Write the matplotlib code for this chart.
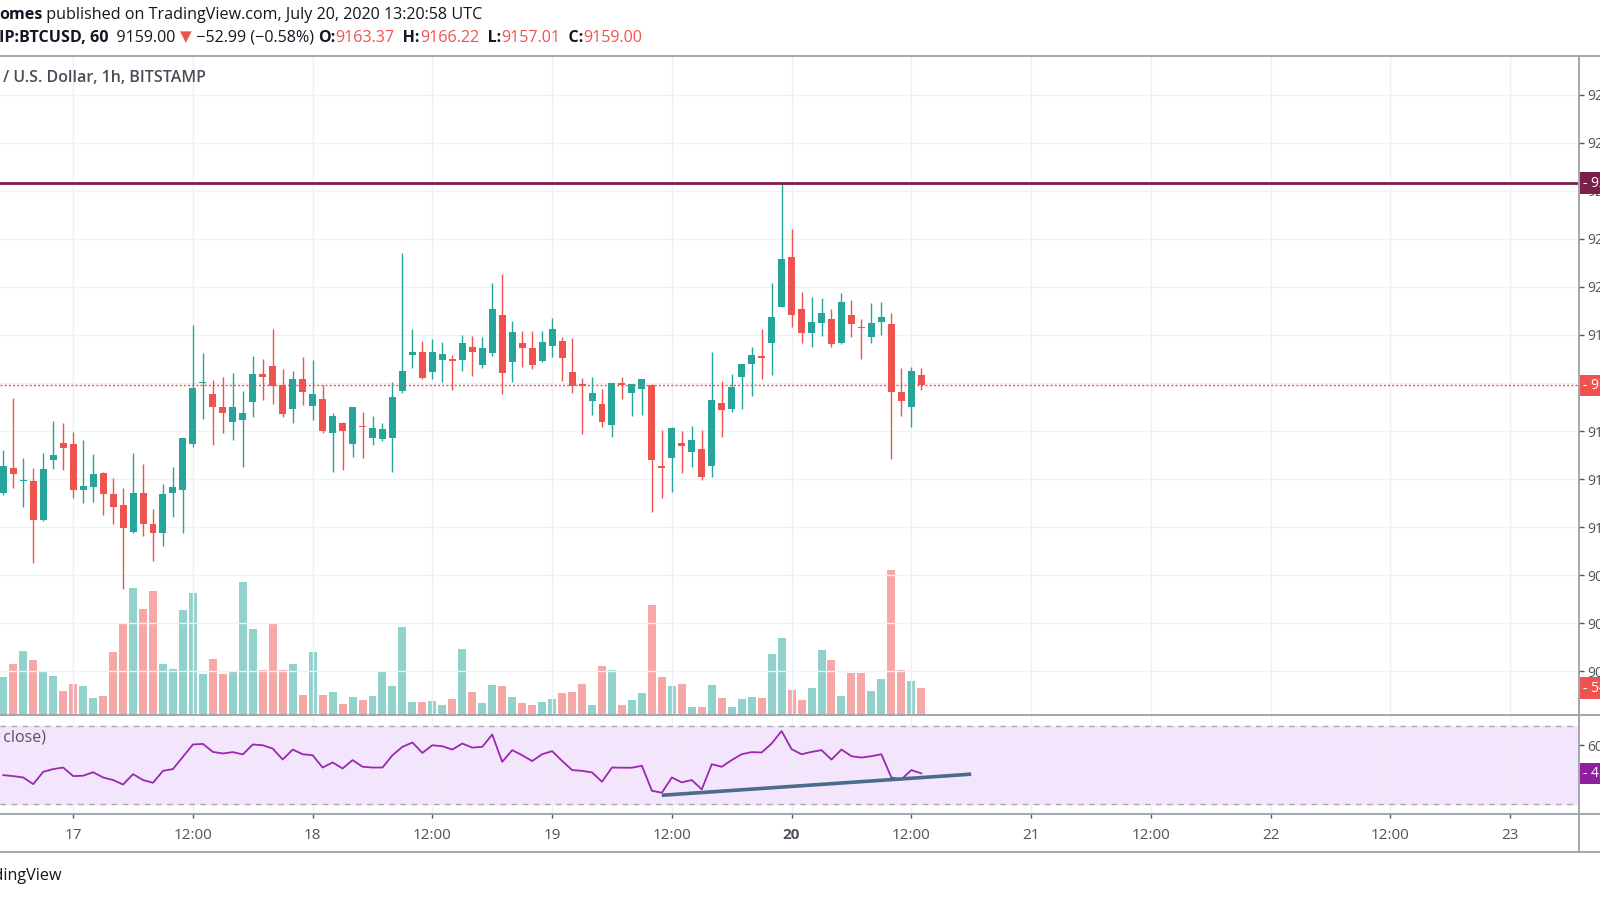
import matplotlib
matplotlib.use('Agg')
import matplotlib.pyplot as plt
import matplotlib.dates as mdates
from matplotlib.lines import Line2D
import numpy as np
import pandas as pd

plt.rcParams['font.family'] = ['Open Sans', 'DejaVu Sans']

# BTCUSD Bitstamp, 1h candles, 16 Jul 17:00 -> 20 Jul 13:00 UTC
times = pd.date_range('2020-07-16 17:00', periods=93, freq='h')

opens = [9114.0, 9124.4, 9119.0, 9119.3, 9102.9, 9127.9, 9134.9, 9134.4, 9115.4, 9116.8,
         9122.4, 9113.8, 9109.2, 9097.8, 9114.3, 9101.3, 9097.4, 9114.0, 9115.4, 9134.4,
         9159.9, 9155.3, 9149.9, 9143.6, 9144.6, 9152.2, 9163.8, 9167.1, 9159.2, 9149.2,
         9161.5, 9150.4, 9153.2, 9139.3, 9143.2, 9134.4, 9142.2, 9136.9, 9136.5, 9136.9,
         9156.8, 9171.7, 9172.8, 9164.7, 9169.6, 9169.9, 9169.6, 9174.9, 9167.5, 9172.6,
         9188.3, 9168.6, 9176.8, 9174.7, 9169.2, 9175.6, 9177.5, 9164.7, 9159.4, 9152.6,
         9151.1, 9142.5, 9159.9, 9155.7, 9157.5, 9159.2, 9125.6, 9128.9, 9134.9, 9131.4,
         9132.4, 9125.4, 9151.5, 9149.0, 9162.6, 9167.9, 9171.0, 9176.5, 9191.8, 9212.6,
         9190.8, 9181.0, 9185.1, 9186.5, 9176.5, 9188.3, 9183.5, 9179.0, 9185.3, 9184.6,
         9156.1, 9149.9, 9163.37]
highs = [9132.1, 9153.9, 9128.6, 9124.7, 9131.0, 9144.3, 9143.2, 9139.4, 9136.1, 9130.4,
         9123.1, 9120.6, 9116.1, 9130.7, 9126.1, 9107.4, 9117.9, 9124.9, 9136.9, 9184.2,
         9172.4, 9161.3, 9162.6, 9164.0, 9156.7, 9171.3, 9169.9, 9182.4, 9165.7, 9165.0,
         9170.7, 9169.6, 9159.2, 9147.4, 9143.6, 9149.9, 9147.8, 9146.3, 9143.2, 9160.6,
         9214.3, 9182.5, 9177.5, 9178.2, 9177.2, 9171.7, 9180.0, 9179.6, 9179.0, 9201.5,
         9205.3, 9186.0, 9181.7, 9181.8, 9181.8, 9187.2, 9179.0, 9178.6, 9161.9, 9162.6,
         9157.5, 9160.1, 9162.4, 9159.4, 9161.7, 9159.6, 9140.4, 9141.5, 9140.1, 9142.1,
         9140.4, 9173.1, 9160.8, 9163.8, 9167.9, 9175.1, 9182.4, 9201.8, 9243.3, 9224.2,
         9198.1, 9196.0, 9195.3, 9190.8, 9197.6, 9194.6, 9186.5, 9193.2, 9193.9, 9189.0,
         9166.1, 9166.8, 9166.22]
lows = [9113.3, 9116.4, 9108.2, 9084.9, 9102.5, 9124.0, 9123.8, 9111.9, 9110.1, 9110.6,
        9105.0, 9101.1, 9074.2, 9097.5, 9096.3, 9085.8, 9092.1, 9104.3, 9097.6, 9133.5,
        9145.0, 9134.2, 9139.3, 9136.3, 9125.1, 9146.0, 9152.9, 9151.3, 9145.7, 9143.5,
        9150.8, 9144.6, 9139.3, 9122.8, 9123.8, 9129.3, 9128.9, 9134.2, 9135.8, 9123.1,
        9156.0, 9166.4, 9161.7, 9161.5, 9160.6, 9157.1, 9165.0, 9163.1, 9166.4, 9171.3,
        9155.3, 9160.6, 9166.5, 9165.8, 9168.9, 9171.0, 9161.0, 9155.7, 9138.8, 9146.7,
        9141.5, 9137.4, 9153.3, 9146.3, 9146.7, 9106.4, 9111.9, 9114.7, 9122.6, 9124.9,
        9119.6, 9121.0, 9137.6, 9148.1, 9149.0, 9154.7, 9161.5, 9163.3, 9191.8, 9183.5,
        9176.5, 9174.9, 9179.6, 9174.9, 9176.3, 9179.0, 9169.9, 9176.8, 9180.0, 9128.2,
        9146.3, 9141.8, 9157.01]
closes = [9125.4, 9122.1, 9119.6, 9102.9, 9124.2, 9130.1, 9133.1, 9115.4, 9117.2, 9122.1,
          9113.6, 9108.2, 9099.7, 9114.3, 9101.3, 9097.4, 9113.8, 9116.8, 9136.9, 9157.8,
          9160.3, 9149.9, 9147.4, 9149.9, 9147.4, 9163.6, 9162.4, 9158.8, 9146.9, 9161.7,
          9156.4, 9155.3, 9140.0, 9146.3, 9140.0, 9149.9, 9141.8, 9141.1, 9140.7, 9154.3,
          9165.1, 9173.1, 9161.9, 9173.1, 9171.9, 9169.3, 9176.5, 9173.1, 9174.4, 9190.8,
          9164.0, 9181.1, 9174.7, 9167.5, 9177.2, 9182.4, 9170.3, 9158.9, 9158.8, 9156.0,
          9143.9, 9160.1, 9159.2, 9159.4, 9161.7, 9127.9, 9124.4, 9141.1, 9133.8, 9136.3,
          9121.0, 9152.9, 9148.8, 9158.5, 9167.9, 9171.7, 9170.6, 9187.6, 9211.5, 9188.3,
          9181.0, 9185.6, 9189.3, 9176.3, 9193.6, 9184.4, 9182.8, 9185.1, 9187.6, 9156.1,
          9152.5, 9165.1, 9159.00]
volumes = [76, 103, 128, 111, 88, 78, 48, 63, 58, 34,
           38, 127, 184, 255, 213, 248, 103, 93, 210, 245,
           83, 113, 83, 89, 266, 172, 91, 185, 90, 103,
           40, 127, 40, 47, 23, 36, 30, 38, 88, 59,
           176, 27, 26, 29, 20, 33, 133, 46, 25, 61,
           59, 37, 25, 20, 27, 33, 45, 47, 63, 21,
           98, 90, 21, 31, 44, 221, 76, 58, 63, 16,
           16, 60, 35, 16, 33, 37, 34, 123, 154, 51,
           31, 55, 131, 110, 39, 85, 85, 49, 73, 291,
           90, 68, 54]
rsi = [44.8, 44.3, 43.6, 40.2, 46.5, 47.9, 48.7, 44.3, 44.5, 46.3,
       43.6, 42.3, 40.0, 45.3, 42.3, 40.9, 47.0, 47.9, 54.2, 60.5,
       60.8, 56.7, 55.9, 56.6, 55.4, 60.5, 60.1, 58.4, 52.8, 57.9,
       55.5, 55.0, 48.7, 51.3, 48.2, 52.5, 49.1, 48.7, 48.7, 55.0,
       59.3, 61.5, 56.2, 60.1, 59.6, 57.9, 61.0, 58.9, 59.3, 65.6,
       51.6, 57.6, 55.0, 52.0, 55.5, 57.1, 52.1, 47.4, 47.0, 46.2,
       41.4, 48.7, 48.6, 48.6, 49.6, 36.8, 35.8, 43.6, 41.1, 42.3,
       37.5, 50.4, 49.1, 52.5, 55.5, 56.6, 56.4, 61.0, 67.4, 58.1,
       55.5, 56.7, 57.6, 52.8, 57.9, 54.5, 53.8, 54.5, 55.5, 43.6,
       42.6, 47.4, 45.7]

resistance = 9243.3
trend_times = pd.to_datetime(['2020-07-19 11:00', '2020-07-20 18:00'])
trend_rsi = [34.5, 45.3]
price_ticks = np.arange(9040, 9281, 20)
day_ticks = pd.date_range('2020-07-17', '2020-07-23', freq='12h')

GREEN = '#26a69a'
RED = '#ef5350'
GRID = '#eef0f6'
FRAME = '#a3a6af'
TXT = '#131722'
AXT = '#50535e'
W, H = 1600, 900

fig = plt.figure(figsize=(16, 9), dpi=100)
fig.patch.set_facecolor('white')

ax = fig.add_axes([0, 1 - 715 / H, 1579 / W, 658 / H])
rax = fig.add_axes([0, 1 - 814 / H, 1579 / W, 99 / H], sharex=ax)

x = mdates.date2num(times)
o = np.array(opens)
c = np.array(closes)
up = c >= o
cols = np.where(up, GREEN, RED)

# volume overlay, behind the candles
vax = ax.twinx()
vax.set_zorder(ax.get_zorder() - 1)
ax.patch.set_visible(False)
vax.bar(x, volumes, width=0.8 / 24, color=cols, alpha=0.5, linewidth=0)
vax.set_ylim(0, 1316)
vax.set_yticks([])
for s in vax.spines.values():
    s.set_visible(False)

# candles
ax.vlines(x, lows, highs, colors=cols, linewidth=1, zorder=3)
body = np.maximum(np.abs(c - o), 0.45)
ax.bar(x, body, bottom=np.minimum(o, c), width=0.7 / 24, color=cols, linewidth=0, zorder=4)

ax.axhline(resistance, color='#7b1f4b', linewidth=2, zorder=5)
ax.axhline(closes[-1], color=RED, linewidth=1, linestyle=(0, (1.5, 1.5)), zorder=5)

ax.set_xlim(mdates.date2num(pd.Timestamp('2020-07-16 16:40')),
            mdates.date2num(pd.Timestamp('2020-07-23 06:55')))
ax.set_ylim(9021.7, 9295.8)
ax.set_xticks(mdates.date2num(day_ticks))
ax.set_yticks(price_ticks)
ax.yaxis.tick_right()
ax.set_yticklabels([f'{p:.2f}' for p in price_ticks])
ax.tick_params(axis='y', length=3.6, width=1, pad=2.4, labelsize=10, colors=AXT)
ax.tick_params(axis='x', length=0, labelbottom=False)
ax.grid(True, color=GRID, linewidth=1)
ax.set_axisbelow(True)
for s in ax.spines.values():
    s.set_visible(False)

# RSI pane
rax.axhspan(30, 70, color='#f3e6fc', zorder=0)
rax.axhline(70, color='#a8a8b0', linewidth=1, linestyle=(0, (4, 4)))
rax.axhline(30, color='#a8a8b0', linewidth=1, linestyle=(0, (4, 4)))
rax.plot(x, rsi, color='#9c27b0', linewidth=1.3, zorder=3)
rax.plot(mdates.date2num(trend_times), trend_rsi, color='#4a6c8c', linewidth=2.6,
         solid_capstyle='butt', zorder=4)
rax.set_ylim(24.9, 75.6)
rax.yaxis.tick_right()
rax.set_yticks([60])
rax.set_yticklabels(['60.00'])
rax.tick_params(axis='y', length=3.6, width=1, pad=2.4, labelsize=10, colors=AXT)
rax.grid(True, axis='x', color=GRID, linewidth=1)
for s in rax.spines.values():
    s.set_visible(False)

labels = [str(d.day) if d.hour == 0 else '12:00' for d in day_ticks]
rax.set_xticks(mdates.date2num(day_ticks))
rax.set_xticklabels(labels)
rax.tick_params(axis='x', length=3, width=1, pad=7, labelsize=11, colors=AXT)
for t in rax.get_xticklabels():
    if t.get_text() == '20':
        t.set_fontweight('bold')

fig.text(46 / W, 1 - 737 / H, 'RSI (14, close)', ha='right', va='center',
         fontsize=11.5, color=AXT)


def scale_label(axis, value, text, color):
    axis.annotate('- ' + text, xy=(1, value), xycoords=('axes fraction', 'data'),
                  xytext=(3, 0), textcoords='offset points', ha='left', va='center',
                  color='white', fontsize=10, annotation_clip=False, zorder=20,
                  bbox=dict(boxstyle='square,pad=0.22', fc=color, ec='none'))


scale_label(ax, resistance, f'{resistance:.2f}', '#7b1f4b')
scale_label(ax, closes[-1], f'{closes[-1]:.2f}', RED)
scale_label(vax, volumes[-1], f'{volumes[-1]:.3f}', RED)
scale_label(rax, rsi[-1], f'{rsi[-1]:.2f}', '#8e1f9e')

# frame lines of the screenshot
for yy in (56, 715, 814, 852):
    fig.add_artist(Line2D([0, 1], [1 - yy / H] * 2, color=FRAME, linewidth=1.4,
                          transform=fig.transFigure))
fig.add_artist(Line2D([1579 / W] * 2, [1 - 56 / H, 1 - 852 / H], color=FRAME,
                      linewidth=1.4, transform=fig.transFigure))

# header texts
renderer = fig.canvas.get_renderer()


def text_run(x0, y0, pieces, size):
    xx = x0 / W
    for s, color, weight, sz in pieces:
        t = fig.text(xx, 1 - y0 / H, s, color=color, fontweight=weight,
                     fontsize=sz or size, va='center', ha='left')
        xx += t.get_window_extent(renderer).width / W


text_run(-1, 15, [('omes', TXT, 'bold', None),
                  (' published on TradingView.com, July 20, 2020 13:20:58 UTC', TXT, 'normal', None)], 11.6)
text_run(-1, 38, [('IP:BTCUSD, 60', TXT, 'bold', None),
                  (f'  {closes[-1]:.2f} ', TXT, 'normal', None),
                  ('▼', RED, 'normal', 11),
                  (' −52.99 (−0.58%) ', TXT, 'normal', None),
                  ('O:', TXT, 'bold', None), (f'{opens[-1]:.2f}', RED, 'normal', None),
                  ('  H:', TXT, 'bold', None), (f'{highs[-1]:.2f}', RED, 'normal', None),
                  ('  L:', TXT, 'bold', None), (f'{lows[-1]:.2f}', RED, 'normal', None),
                  ('  C:', TXT, 'bold', None), (f'{closes[-1]:.2f}', RED, 'normal', None)], 11.6)
fig.text(3 / W, 1 - 78 / H, '/ U.S. Dollar, 1h, BITSTAMP', fontsize=11.5,
         fontweight='semibold', color='#4a4d57', va='center', ha='left')
fig.text(62 / W, 1 - 876 / H, 'TradingView', fontsize=11.6, color=TXT,
         va='center', ha='right')

fig.savefig('out.png', dpi=100, facecolor='white')
